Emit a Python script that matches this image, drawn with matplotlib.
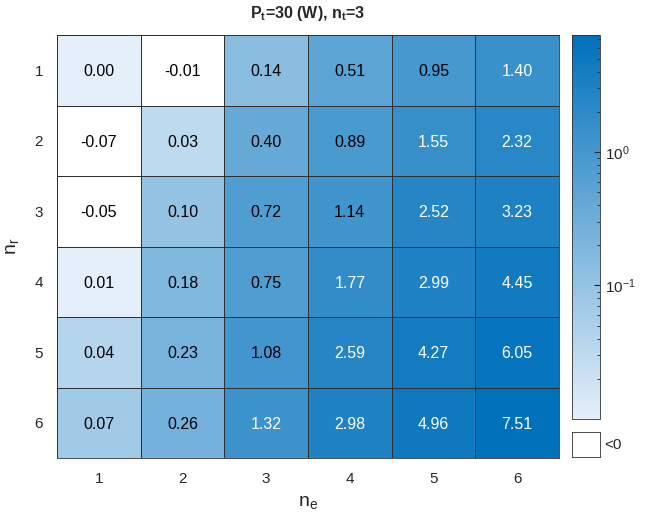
#Heatmap of results for P_t=30 W, n_t=3 (MATLAB style look)
import matplotlib
matplotlib.use('Agg')
import matplotlib.pyplot as plt
import numpy as np
from matplotlib.colors import LinearSegmentedColormap, LogNorm
from matplotlib.cm import ScalarMappable

plt.rcParams['font.family'] = ['Liberation Sans', 'DejaVu Sans']
plt.rcParams['mathtext.fontset'] = 'custom'
plt.rcParams['mathtext.rm'] = 'Liberation Sans'
plt.rcParams['mathtext.it'] = 'Liberation Sans'
plt.rcParams['mathtext.bf'] = 'Liberation Sans:bold'

#Axis categories
ne_labels = ['1', '2', '3', '4', '5', '6']
nr_labels = ['1', '2', '3', '4', '5', '6']

#Cell values, one list per n_r row
row1 = [0.00, -0.01, 0.14, 0.51, 0.95, 1.40]
row2 = [-0.07, 0.03, 0.40, 0.89, 1.55, 2.32]
row3 = [-0.05, 0.10, 0.72, 1.14, 2.52, 3.23]
row4 = [0.01, 0.18, 0.75, 1.77, 2.99, 4.45]
row5 = [0.04, 0.23, 1.08, 2.59, 4.27, 6.05]
row6 = [0.07, 0.26, 1.32, 2.98, 4.96, 7.51]

vals = np.array([row1, row2, row3, row4, row5, row6])

vmin = 0.01
vmax = 7.51

cmap = LinearSegmentedColormap.from_list('blu', ['#e4eff9', '#0071bb'])
cmap.set_bad('white')
norm = LogNorm(vmin=vmin, vmax=vmax)

#negative cells go white, the rest are clipped into the colour range
colour_vals = np.ma.masked_where(vals < 0, np.clip(vals, vmin, None))

fig = plt.figure(figsize=(6.47, 5.22), dpi=100)
ax = fig.add_axes([0.0881, 0.1226, 0.7759, 0.8103])

ax.pcolormesh(np.arange(7), np.arange(7), colour_vals, cmap=cmap, norm=norm,
              edgecolor='#303030', linewidth=0.5)
ax.set_xlim(0, 6)
ax.set_ylim(6, 0)

for i in range(vals.shape[0]):
    for j in range(vals.shape[1]):
        v = vals[i, j]
        col = 'white' if v > 1.2 else 'black'
        ax.text(j + 0.5, i + 0.52, '%.2f' % v, ha='center', va='center',
                fontsize=11.5, color=col)

ax.set_xticks(np.arange(6) + 0.5)
ax.set_xticklabels(ne_labels)
ax.set_yticks(np.arange(6) + 0.5)
ax.set_yticklabels(nr_labels)
ax.tick_params(length=0, labelsize=11, colors='#262626', pad=10)
for s in ax.spines.values():
    s.set_color('#303030')
    s.set_linewidth(0.6)

ax.set_xlabel(r'$\mathrm{n_e}$', fontsize=14, color='#262626', labelpad=6)
ax.set_ylabel(r'$\mathrm{n_r}$', fontsize=14, color='#262626', labelpad=10)
ax.set_title(r'$\mathbf{P_t}$=30 (W), $\mathbf{n_t}$=3', fontsize=11.5,
             fontweight='bold', color='#262626', pad=12)

#Colorbar
cax = fig.add_axes([0.8841, 0.1973, 0.0433, 0.7356])
cb = fig.colorbar(ScalarMappable(norm=norm, cmap=cmap), cax=cax)
cb.outline.set_edgecolor('#303030')
cb.outline.set_linewidth(0.6)
cax.tick_params(which='both', direction='in', right=True, colors='#262626',
                labelsize=11)
cax.tick_params(which='major', length=4)
cax.tick_params(which='minor', length=2)
cb.set_ticks([0.1, 1])
cb.set_ticklabels([r'$10^{-1}$', r'$10^{0}$'])

#Box for negative values
bax = fig.add_axes([0.8841, 0.1245, 0.0433, 0.0479])
bax.set_facecolor('white')
bax.set_xticks([])
bax.set_yticks([])
for s in bax.spines.values():
    s.set_color('#303030')
    s.set_linewidth(0.6)
bax.text(1.15, 0.5, '<0', transform=bax.transAxes, ha='left', va='center',
         fontsize=11, color='#262626')

fig.savefig('out.png', dpi=100)
